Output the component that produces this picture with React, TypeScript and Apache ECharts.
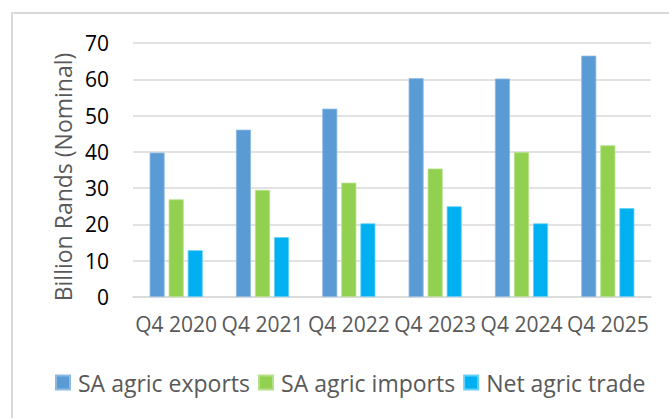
import React, { useEffect, useRef } from "react";
import * as echarts from "echarts";

const categories = ["Q4 2020", "Q4 2021", "Q4 2022", "Q4 2023", "Q4 2024", "Q4 2025"];
const exportsValues = [39.8, 46.1, 51.9, 60.3, 60.2, 66.5];
const importsValues = [26.9, 29.5, 31.5, 35.4, 39.9, 41.8];
const netValues = [12.9, 16.5, 20.3, 25.0, 20.3, 24.5];
const seriesNames = ["SA agric exports", "SA agric imports", "Net agric trade"];
const yTitle = "Billion Rands (Nominal)";

const FONT = "Open Sans";

export default function App() {
  const ref = useRef<HTMLDivElement>(null);
  useEffect(() => {
    if (!ref.current) return;
    const chart = echarts.init(ref.current, null, { renderer: "svg" });
    const colors = ["#5B9BD5", "#92D050", "#00B0F0"];
    const borders = ["#8DB9E3", "#B5E08A", "#66D0F6"];
    const data = [exportsValues, importsValues, netValues];
    chart.setOption({
      animation: false,
      backgroundColor: "#ffffff",
      textStyle: { fontFamily: FONT },
      grid: { left: 133, right: 18, top: 43, bottom: 121, containLabel: false },
      legend: {
        left: 50,
        top: 366,
        itemWidth: 14,
        itemHeight: 14,
        itemGap: 8,
        icon: "rect",
        textStyle: { fontFamily: FONT, fontSize: 23, color: "#595959", padding: [0, 0, 0, 3] },
        data: seriesNames,
      },
      xAxis: {
        type: "category",
        data: categories,
        axisTick: { show: false },
        axisLine: { show: true, lineStyle: { color: "#D9D9D9", width: 1.5 } },
        axisLabel: { interval: 0, color: "#595959", fontSize: 21, fontFamily: FONT, margin: 16 },
      },
      yAxis: {
        type: "value",
        min: 0,
        max: 70,
        interval: 10,
        axisLine: { show: false },
        axisTick: { show: false },
        splitLine: { lineStyle: { color: "#D9D9D9", width: 1.5 } },
        axisLabel: { color: "#000000", fontSize: 21, fontFamily: FONT, margin: 24 },
      },
      graphic: [
        {
          type: "rect",
          shape: { x: 12, y: 13, width: 720, height: 500 },
          style: { fill: "none", stroke: "#D9D9D9", lineWidth: 2 },
          silent: true,
        },
        {
          type: "text",
          x: 63,
          y: 177,
          rotation: Math.PI / 2,
          style: {
            text: yTitle,
            fontFamily: FONT,
            fontSize: 23,
            fill: "#595959",
            textAlign: "center",
            textVerticalAlign: "middle",
          },
        },
      ],
      series: seriesNames.map((name, i) => ({
        name,
        type: "bar",
        data: data[i],
        barWidth: 15,
        barGap: "27%",
        itemStyle: { color: colors[i], borderColor: borders[i], borderWidth: 0.8 },
      })),
    });
    return () => chart.dispose();
  }, []);
  return (
    <div
      ref={ref}
      style={{ position: "absolute", left: 0, top: 0, width: 669, height: 418 }}
    />
  );
}
